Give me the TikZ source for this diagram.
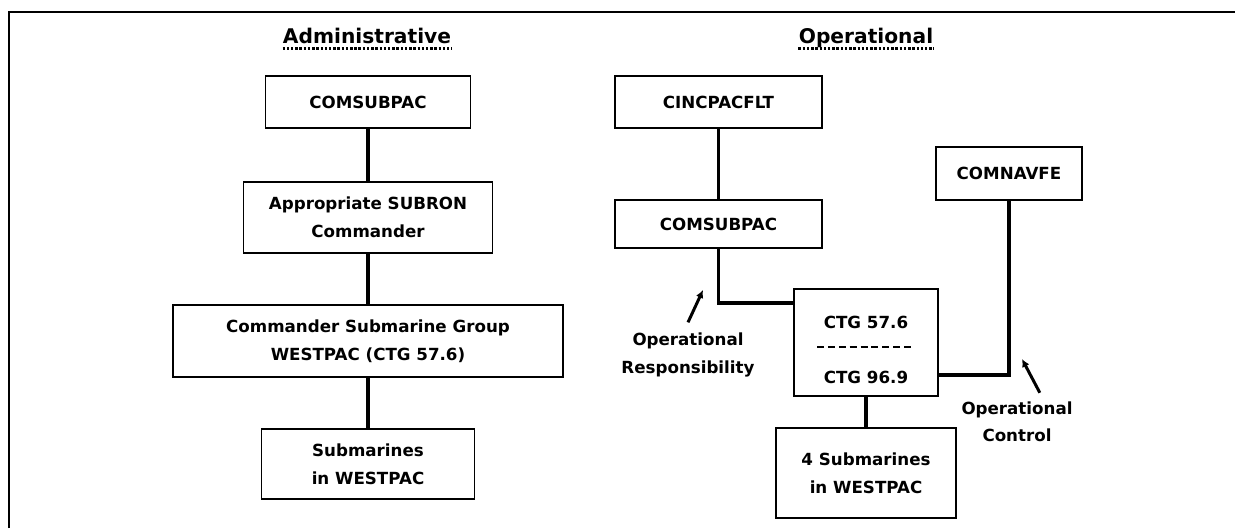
\documentclass[tikz,border=0pt]{standalone}
\usepackage{fontspec}
\setmainfont{DejaVu Sans}
\usetikzlibrary{arrows.meta}

\begin{document}
\begin{tikzpicture}[x=0.02cm, y=-0.02cm,
                box/.style={draw=black, line width=1.1pt, inner sep=0pt, align=center, font=\fontsize{9.5}{16}\selectfont\bfseries},
                boxtext/.style={inner sep=0pt, font=\fontsize{9.5}{16}\selectfont\bfseries},
                heading/.style={inner sep=0pt, anchor=base, font=\fontsize{11.5}{13}\selectfont\bfseries},
                note/.style={inner sep=0pt, align=center, font=\fontsize{9.5}{15.5}\selectfont\bfseries},
                link/.style={black, line width=2pt},
                pointer/.style={black, line width=1.7pt, -{Latex[length=4.5pt,width=4.5pt]}},
                underline/.style={black, line width=1.3pt, dash pattern=on 1.4pt off 1pt},
                ctgdash/.style={black, line width=1.2pt, dash pattern=on 4pt off 2.2pt},
                frameline/.style={black, line width=1.4pt}]
                \useasboundingbox (0,0) rectangle (1235,528);
                \draw[frameline] (9,528) -- (9,12) -- (1235,12);
                \node[heading] (admTitle) at (367,43.5) {Administrative};
                \node[heading] (opTitle) at (866,43.5) {Operational};
                \draw[underline] ([yshift=-2.8pt]admTitle.base west) -- ([yshift=-2.8pt]admTitle.base east);
                \draw[underline] ([yshift=-2.8pt]opTitle.base west) -- ([yshift=-2.8pt]opTitle.base east);
                \node[box, minimum width=4.1cm, minimum height=1.04cm] (admA) at (368,102) {COMSUBPAC};
                \node[box, minimum width=4.98cm, minimum height=1.42cm] (admB) at (368,217.5) {Appropriate SUBRON\\Commander};
                \node[box, minimum width=7.8cm, minimum height=1.44cm] (admC) at (368,341) {Commander Submarine Group\\WESTPAC (CTG 57.6)};
                \node[box, minimum width=4.26cm, minimum height=1.4cm] (admD) at (368,464) {Submarines\\in WESTPAC};
                \node[box, minimum width=4.14cm, minimum height=1.04cm] (opA) at (718.5,102) {CINCPACFLT};
                \node[box, minimum width=4.14cm, minimum height=0.96cm] (opB) at (718.5,224) {COMSUBPAC};
                \node[box, minimum width=2.92cm, minimum height=1.06cm] (opN) at (1009,173.5) {COMNAVFE};
                \node[box, minimum width=2.88cm, minimum height=2.14cm] (opC) at (866,342.5) {};
                \node[boxtext] (ctgUpper) at (866,322) {CTG 57.6};
                \node[boxtext] (ctgLower) at (866,377) {CTG 96.9};
                \draw[ctgdash] (817,347) -- (915,347);
                \node[box, minimum width=3.6cm, minimum height=1.8cm] (opD) at (866,473) {4 Submarines\\in WESTPAC};
                \coordinate (rspLevel) at (0,303);
                \coordinate (ctlLevel) at (0,375);
                \draw[link] (admA) -- (admB);
                \draw[link] (admB) -- (admC);
                \draw[link] (admC) -- (admD);
                \draw[link] (opA) -- (opB);
                \draw[link] (opB.south) |- (opC.west |- rspLevel);
                \draw[link] (opN.south) |- (opC.east |- ctlLevel);
                \draw[link] (opC) -- (opD);
                \node[note] (respNote) at (688,355) {Operational\\Responsibility};
                \node[note] (ctlNote) at (1017,422) {Operational\\Control};
                \coordinate (respTip) at (703,290);
                \coordinate (ctlTip) at (1022,359);
                \draw[pointer] ([yshift=6pt]respNote.north) -- (respTip);
                \draw[pointer] ([xshift=13pt,yshift=5pt]ctlNote.north) -- (ctlTip);
            \end{tikzpicture}
\end{document}
